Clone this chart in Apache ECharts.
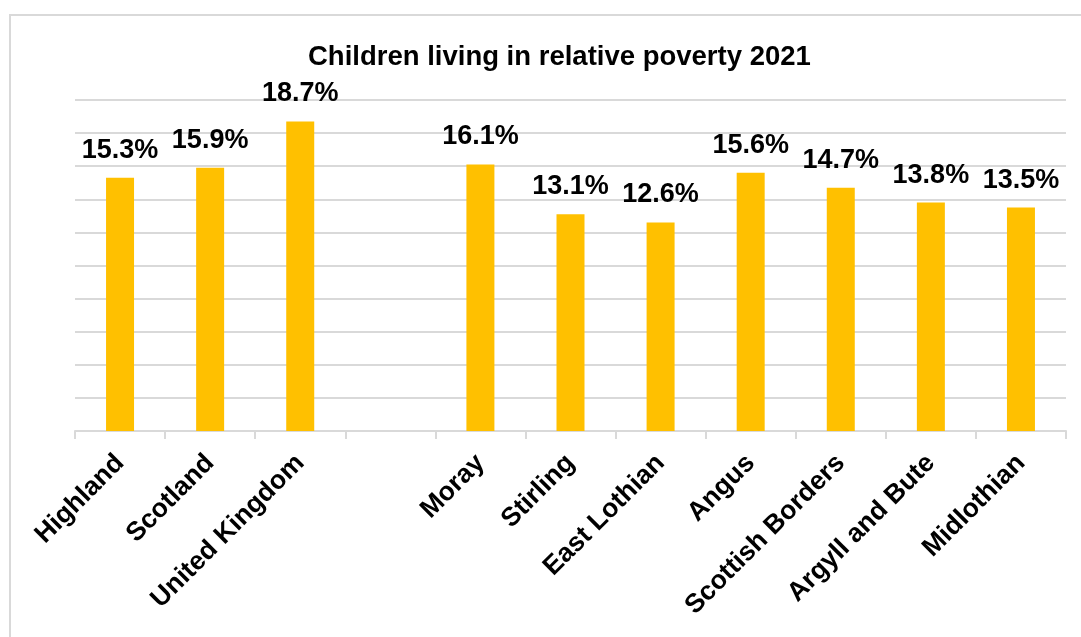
<!DOCTYPE html>
<html>
<head>
<meta charset="utf-8">
<script src="https://cdn.jsdelivr.net/npm/echarts@6/dist/echarts.min.js"></script>
<style>
  html, body { margin: 0; padding: 0; background: #fff; }
  #chart { width: 1081px; height: 637px; }
</style>
</head>
<body>
<div id="chart"></div>
<script>
// areas, with a blank gap after United Kingdom
const areas = ['Highland', 'Scotland', 'United Kingdom', '', 'Moray', 'Stirling',
  'East Lothian', 'Angus', 'Scottish Borders', 'Argyll and Bute', 'Midlothian']
const povertyPct = [15.3, 15.9, 18.7, null, 16.1, 13.1, 12.6, 15.6, 14.7, 13.8, 13.5]

const gridColor = '#d9d9d9'
const font = 'Liberation Sans, Arial, sans-serif'

const chart = echarts.init(document.getElementById('chart'), null, { renderer: 'canvas' })
chart.setOption({
  animation: false,
  title: {
    text: 'Children living in relative poverty 2021',
    left: 303,
    top: 38,
    textStyle: { fontFamily: font, fontSize: 27.5, fontWeight: 'bold', color: '#000' }
  },
  graphic: [{
    type: 'rect',
    shape: { x: 10, y: 15, width: 1200, height: 800 },
    style: { fill: 'none', stroke: gridColor, lineWidth: 2 },
    silent: true
  }],
  grid: { left: 75, right: 15, top: 100, bottom: 206 },
  xAxis: {
    type: 'category',
    data: areas,
    axisLine: { lineStyle: { color: gridColor, width: 2 } },
    axisTick: { show: true, length: 8, lineStyle: { color: gridColor, width: 2 } },
    axisLabel: {
      rotate: 45, interval: 0, margin: 28,
      fontFamily: font, fontSize: 26.5, fontWeight: 'bold', color: '#000'
    }
  },
  yAxis: {
    type: 'value', min: 0, max: 20, interval: 2,
    axisLabel: { show: false },
    axisLine: { show: false },
    axisTick: { show: false },
    splitLine: { lineStyle: { color: gridColor, width: 2 } }
  },
  series: [{
    type: 'bar',
    data: povertyPct,
    barWidth: 28,
    itemStyle: { color: '#ffc000' },
    label: {
      show: true, position: 'top', distance: 14,
      formatter: p => p.value.toFixed(1) + '%',
      fontFamily: font, fontSize: 27, fontWeight: 'bold', color: '#000'
    }
  }]
})
</script>
</body>
</html>
